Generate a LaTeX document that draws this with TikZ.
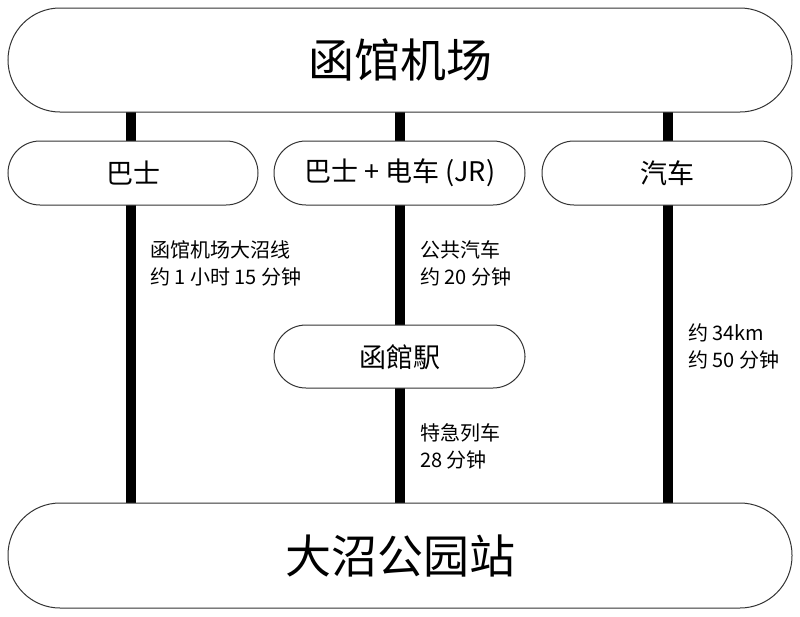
\documentclass[tikz,border=0pt]{standalone}
\usepackage{fontspec}
\setmainfont{Noto Sans CJK SC}
\begin{document}
\begin{tikzpicture}[x=1pt,y=-1pt,
  box/.style={draw=black!80,line width=1pt,fill=white,rounded corners=#1},
  lbl/.style={anchor=west,align=left,font=\fontsize{20}{27}\selectfont,inner sep=0pt},
  rail/.style={line width=10pt}]
\useasboundingbox (0,0) rectangle (800,616);
\coordinate (t1) at (131,112); \coordinate (b1) at (131,503);
\coordinate (t2) at (400,112); \coordinate (b2) at (400,503);
\coordinate (t3) at (668,112); \coordinate (b3) at (668,503);
\draw[rail] (t1)--(b1); \draw[rail] (t2)--(b2); \draw[rail] (t3)--(b3);
\draw[box=52] (8,8) rectangle (792,112);
\node (top) at (400,60) {\fontsize{46}{48}\selectfont 函馆机场};
\draw[box=52] (8,503) rectangle (792,608);
\node (bot) at (400,556) {\fontsize{46}{48}\selectfont 大沼公园站};
\draw[box=32] (8,141) rectangle (258,205);
\node (m1) at (133,173) {\fontsize{27}{29}\selectfont 巴士};
\draw[box=32] (274,141) rectangle (525,205);
\node (m2) at (400,173) {\fontsize{27}{29}\selectfont 巴士 + 电车 (JR)};
\draw[box=32] (542,141) rectangle (792,205);
\node (m3) at (667,173) {\fontsize{27}{29}\selectfont 汽车};
\draw[box=32] (274,325) rectangle (525,388);
\node (hk) at (400,357) {\fontsize{27}{29}\selectfont 函館駅};
\node[lbl] (l1) at (150,263) {函馆机场大沼线\\约 1 小时 15 分钟};
\node[lbl] (l2) at (420,263) {公共汽车\\约 20 分钟};
\node[lbl] (l3) at (688,346) {约 34km\\约 50 分钟};
\node[lbl] (l4) at (420,446) {特急列车\\28 分钟};
\end{tikzpicture}
\end{document}
